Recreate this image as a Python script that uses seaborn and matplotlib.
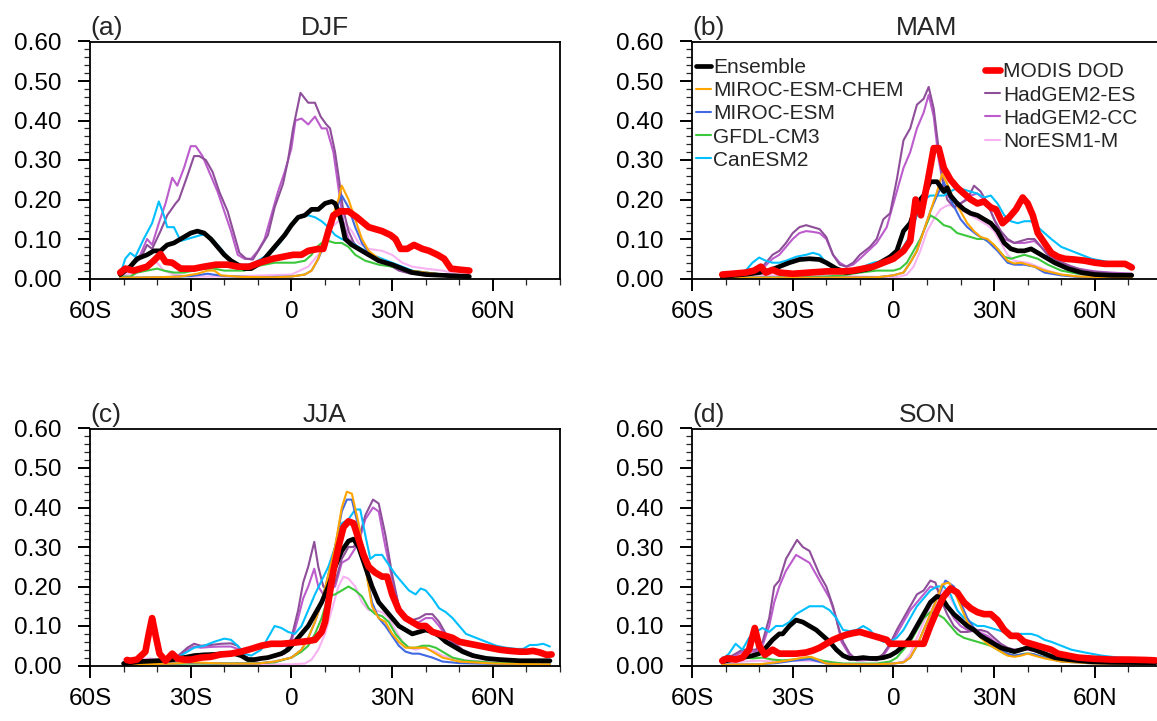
import matplotlib
matplotlib.use("Agg")
import matplotlib.pyplot as plt
from matplotlib.lines import Line2D
from matplotlib.ticker import MultipleLocator, FormatStrFormatter
import pandas as pd
import seaborn as sns

# series: (latitude, dust optical depth)
DJF_MODIS = [(-51, .015), (-49.5, .025), (-47, .02), (-45, .025), (-43, .03), (-41, .045), (-39, .062), (-37.5, .042),
             (-35.5, .04), (-33, .025), (-29, .025), (-26, .03), (-22.5, .035), (-19, .035), (-16, .03), (-12.5, .03),
             (-9.5, .04), (-5.5, .05), (-2.5, .055), (0.5, .06), (3, .06), (5, .07), (8, .075), (9.5, .075), (11, .12),
             (12.5, .16), (14.5, .17), (17, .17), (19.5, .155), (23, .13), (27, .12), (29.5, .11), (31, .1),
             (32.5, .075), (34.5, .075), (36.5, .085), (39, .075), (41, .07), (43.5, .06), (45.5, .05), (47.5, .025),
             (50.5, .022), (53, .02)]
DJF_ENSEMBLE = [(-51, .01), (-48, .03), (-46, .05), (-43, .06), (-41, .07), (-39, .07), (-37, .085), (-35, .09),
                (-33, .1), (-30, .115), (-28, .12), (-26, .115), (-24, .1), (-22, .08), (-20, .06), (-18, .045),
                (-16, .035), (-14, .025), (-12, .025), (-10, .035), (-8, .05), (-6, .07), (-4, .09), (-2, .11),
                (0, .135), (2, .155), (4, .16), (6, .175), (8, .175), (10, .19), (12, .195), (13, .19), (14, .17),
                (15, .14), (16, .1), (18, .085), (20, .075), (23, .06), (26, .045), (30, .035), (33, .025), (36, .015),
                (40, .01), (45, .008), (53, .005)]
DJF_HADES = [(-51, .01), (-48, .03), (-45, .05), (-43, .085), (-41.5, .075), (-39, .12), (-37, .16), (-34.5, .19),
             (-33.5, .2), (-31, .26), (-29, .31), (-27.5, .31), (-25.5, .3), (-23.5, .27), (-21.5, .22), (-19, .17),
             (-17, .11), (-15.5, .065), (-13.5, .05), (-11.5, .048), (-9.5, .075), (-7, .11), (-5, .18), (-2.5, .24),
             (-1, .3), (0.5, .38), (2.7, .47), (5, .445), (7, .445), (8.7, .41), (10.4, .39), (11.5, .38), (13, .32),
             (14.2, .25), (15.3, .18), (17, .12), (18.6, .09), (20.2, .075), (22.4, .06), (25.7, .045), (29, .035),
             (32, .02), (35.5, .012), (40, .01), (44, .008), (53, .005)]
DJF_HADCC = [(-51, .005), (-48, .025), (-45, .06), (-43, .1), (-41.5, .085), (-39.5, .14), (-37.5, .19), (-35.5, .255),
             (-34, .235), (-32, .28), (-30, .335), (-28.5, .335), (-26.5, .31), (-24, .26), (-22, .22), (-20, .17),
             (-18, .12), (-16, .06), (-14, .05), (-12, .05), (-10, .07), (-8, .1), (-6, .16), (-4, .22), (-2, .27),
             (0, .33), (1.2, .4), (3, .405), (5, .39), (7, .41), (9, .38), (10.5, .38), (12.5, .32), (14, .23),
             (15.5, .14), (17, .1), (19, .085), (22, .065), (26, .045), (30, .03), (35, .015), (40, .01), (53, .006)]
DJF_CANESM = [(-51, .01), (-49.5, .05), (-48, .065), (-46.5, .055), (-44, .1), (-41.5, .14), (-39.5, .195), (-38, .16),
              (-37, .13), (-35, .13), (-33, .095), (-31, .1), (-29, .105), (-27, .11), (-25, .11), (-23, .095),
              (-21, .075), (-19, .055), (-17, .04), (-15, .035), (-13, .035), (-11, .04), (-9, .05), (-7, .06),
              (-5, .075), (-3, .095), (-1, .12), (1, .15), (3, .155), (5, .16), (7, .155), (9, .145), (11, .13),
              (13, .11), (15, .1), (17, .095), (19, .085), (21, .075), (24, .06), (27, .05), (30, .04), (33, .03),
              (36, .02), (40, .015), (45, .01), (53, .005)]
DJF_GFDL = [(-51, .005), (-48, .005), (-46, .015), (-43, .02), (-40, .025), (-38, .02), (-35, .015), (-32, .015),
            (-29, .02), (-26, .025), (-23, .025), (-20, .02), (-17, .02), (-14, .02), (-11, .03), (-8, .035), (-5, .04),
            (-2, .04), (1, .04), (4, .045), (6, .06), (7, .075), (9, .09), (11, .095), (13, .09), (15, .09), (17, .08),
            (19, .06), (22, .045), (26, .035), (30, .03), (35, .02), (40, .015), (45, .01), (53, .005)]
DJF_MIROC_CHEM = [(-51, .002), (-40, .003), (-33, .005), (-28, .012), (-25, .02), (-23, .02), (-21, .008), (-15, .004),
                  (-5, .003), (0, .005), (4, .01), (6, .02), (8, .05), (10, .1), (12, .15), (14, .2), (15, .235),
                  (17, .2), (19, .15), (21, .1), (23, .07), (26, .05), (30, .035), (35, .02), (40, .015), (45, .01),
                  (53, .005)]
DJF_MIROC = [(-51, .002), (-40, .003), (-30, .006), (-25, .012), (-20, .006), (-10, .003), (0, .005), (4, .01),
             (6, .02), (8, .05), (10, .09), (12, .14), (14, .19), (15, .21), (17, .18), (19, .13), (21, .09),
             (23, .065), (26, .05), (30, .035), (35, .02), (40, .015), (45, .01), (53, .005)]
DJF_NORESM = [(-51, .005), (-45, .02), (-42, .04), (-40, .04), (-38, .02), (-35, .01), (-30, .005), (-20, .005),
              (0, .01), (5, .03), (8, .06), (10, .1), (12, .13), (14, .145), (16, .14), (18, .12), (20, .09),
              (23, .075), (27, .07), (30, .06), (33, .04), (36, .03), (40, .025), (45, .02), (50, .01), (53, .01)]

MAM_MODIS = [(-51, .01), (-48, .012), (-44, .015), (-41.5, .02), (-39.5, .03), (-38, .015), (-36, .022), (-34, .015),
             (-30, .012), (-25, .015), (-20, .018), (-15, .018), (-12, .02), (-9, .025), (-6, .03), (-3, .04), (0, .05),
             (3, .07), (5, .095), (6.6, .2), (8.2, .16), (10.3, .25), (12, .33), (13.5, .33), (15, .28), (17, .25),
             (19, .23), (21, .215), (23, .2), (25, .19), (27, .195), (29, .18), (30.5, .175), (32.5, .14),
             (34.5, .155), (36.5, .175), (38.5, .205), (40, .19), (41.5, .16), (43, .115), (45, .09), (47, .065),
             (49, .055), (51, .05), (54, .048), (57, .045), (60, .04), (63, .037), (66, .037), (69, .037), (71, .028)]
MAM_ENSEMBLE = [(-51, .005), (-45, .01), (-40, .015), (-37, .02), (-34, .03), (-31, .04), (-28, .048), (-25, .05),
                (-22, .048), (-20, .04), (-17, .025), (-14, .015), (-10, .02), (-7, .025), (-4, .04), (-1, .055),
                (1, .07), (3, .12), (5, .14), (7, .19), (9, .21), (11, .245), (13, .245), (15, .22), (16, .23),
                (17, .21), (19, .19), (21, .175), (23, .165), (25, .16), (27, .15), (29, .14), (31, .12), (33, .09),
                (35, .075), (37, .07), (39, .07), (41, .075), (43, .065), (45, .055), (48, .04), (52, .025),
                (56, .015), (60, .01), (65, .008), (71, .008)]
MAM_HADES = [(-51, .002), (-45, .005), (-42, .01), (-39, .03), (-36, .06), (-34, .07), (-32, .09), (-30, .115),
             (-28, .13), (-26, .135), (-24, .13), (-22, .125), (-20, .105), (-18, .06), (-16, .035), (-14, .03),
             (-12, .04), (-10, .06), (-7, .08), (-5, .1), (-3, .15), (-1, .165), (1, .25), (3, .35), (5, .38),
             (7, .44), (9, .455), (10.5, .485), (12, .43), (13, .36), (14.5, .26), (16, .2), (18, .18), (20, .19),
             (22, .2), (24, .235), (26, .22), (28, .19), (30, .15), (32, .12), (34, .1), (36, .09), (38, .095),
             (40, .1), (42, .1), (44, .08), (46, .06), (49, .045), (53, .03), (57, .02), (62, .015), (67, .012),
             (71, .012)]
MAM_HADCC = [(-51, .002), (-45, .005), (-42, .01), (-39, .025), (-36, .05), (-34, .06), (-32, .08), (-30, .1),
             (-28, .115), (-26, .12), (-24, .118), (-22, .115), (-20, .1), (-18, .06), (-16, .04), (-14, .03),
             (-12, .035), (-10, .05), (-5, .09), (-2, .13), (1, .22), (3, .28), (5, .32), (7, .38), (9, .42),
             (10.5, .465), (12, .41), (13.5, .3), (15, .23), (17, .2), (20, .19), (23, .21), (25, .215), (27, .2),
             (29, .17), (31, .13), (33, .1), (36, .09), (39, .09), (42, .095), (44, .08), (46, .06), (50, .04),
             (55, .025), (60, .018), (65, .015), (71, .012)]
MAM_CANESM = [(-51, .01), (-47, .015), (-44, .02), (-42, .04), (-40, .053), (-38, .045), (-36, .04), (-34, .04),
              (-32, .045), (-29, .055), (-26, .06), (-24, .065), (-22, .06), (-20, .04), (-18, .03), (-15, .02),
              (-12, .02), (-9, .03), (-6, .04), (-3, .045), (0, .055), (3, .08), (5, .11), (7, .16), (9, .2),
              (11, .21), (13, .21), (15, .21), (17, .22), (19, .23), (21, .225), (23, .22), (25, .215), (27, .205),
              (29, .21), (31, .19), (33, .16), (35, .145), (37, .14), (39, .145), (41, .145), (43, .13), (45, .115),
              (47, .1), (50, .08), (53, .07), (56, .06), (59, .05), (62, .045), (65, .04), (68, .035), (71, .03)]
MAM_GFDL = [(-51, .002), (-30, .003), (-20, .005), (-15, .008), (-10, .015), (-5, .02), (-2, .02), (0, .02),
            (2, .025), (4, .04), (6, .07), (8, .1), (10, .14), (11, .16), (13, .15), (15, .135), (17, .13),
            (19, .115), (21, .11), (23, .105), (25, .1), (27, .1), (29, .09), (31, .075), (33, .055), (35, .05),
            (37, .055), (39, .06), (41, .055), (43, .05), (46, .035), (50, .02), (55, .012), (60, .008), (71, .005)]
MAM_MIROC_CHEM = [(-51, .002), (-20, .002), (-5, .003), (0, .008), (3, .015), (5, .04), (7, .07), (9, .12), (11, .17),
                  (13, .22), (14.5, .265), (16, .24), (18, .2), (20, .17), (22, .14), (24, .12), (26, .105),
                  (28, .1), (30, .085), (32, .065), (34, .045), (36, .038), (38, .04), (40, .035), (42, .03),
                  (45, .02), (50, .01), (55, .005), (71, .002)]
MAM_MIROC = [(-51, .002), (-20, .002), (-5, .003), (0, .008), (3, .015), (5, .04), (7, .07), (9, .12), (11, .17),
             (13, .21), (15, .245), (17, .2), (20, .15), (22, .13), (25, .11), (28, .095), (31, .07), (34, .04),
             (36, .035), (39, .035), (42, .03), (45, .015), (50, .008), (55, .004), (71, .002)]
MAM_NORESM = [(-51, .005), (-35, .008), (-25, .01), (-15, .006), (0, .003), (2, .005), (4, .01), (6, .03), (8, .07),
              (10, .12), (12, .15), (14, .175), (16, .185), (18, .185), (20, .175), (22, .165), (24, .155),
              (26, .145), (28, .135), (30, .12), (32, .09), (34, .06), (36, .045), (38, .042), (40, .04), (43, .03),
              (46, .02), (50, .01), (55, .005), (71, .002)]

JJA_MODIS = [(-49, .014), (-48, .012), (-46, .015), (-43.5, .035), (-42.5, .08), (-41.5, .12), (-40.3, .07),
             (-39.3, .03), (-37.5, .012), (-35.5, .03), (-34, .018), (-32, .015), (-30, .015), (-27, .02),
             (-24, .022), (-21, .028), (-18, .03), (-15, .035), (-12, .042), (-9, .05), (-6, .055), (-3, .055),
             (0, .057), (3, .06), (5, .062), (7, .065), (9, .085), (10, .11), (11, .16), (12.5, .24), (14, .3),
             (15.5, .35), (17, .365), (18.5, .36), (20, .32), (21.5, .28), (23, .25), (25, .235), (27, .225),
             (28.5, .225), (30, .18), (32, .14), (34, .12), (36, .11), (38, .1), (40, .1), (42, .085), (44, .08),
             (46, .075), (48, .07), (50, .06), (53, .055), (56, .05), (59, .045), (62, .04), (65, .037), (68, .035),
             (70, .035), (72, .037), (74, .033), (76, .027), (77.5, .028)]
JJA_ENSEMBLE = [(-50, .005), (-45, .01), (-40, .012), (-35, .015), (-32, .02), (-29, .025), (-26, .027), (-23, .028),
                (-20, .03), (-17, .03), (-15, .025), (-13, .015), (-11, .015), (-9, .018), (-7, .02), (-5, .025),
                (-3, .03), (-1, .04), (1, .06), (3, .08), (5, .1), (7, .13), (9, .16), (11, .2), (13, .25), (15, .29),
                (17, .315), (18.5, .32), (20, .3), (22, .25), (24, .2), (26, .16), (28, .14), (30, .12), (32, .1),
                (34, .09), (36, .08), (38, .085), (40, .09), (42, .085), (44, .075), (46, .06), (48, .05), (51, .035),
                (54, .025), (58, .018), (62, .015), (68, .012), (77, .012)]
JJA_HADES = [(-50, .003), (-40, .005), (-36, .01), (-33, .03), (-31, .045), (-29, .055), (-27, .05), (-24, .052),
             (-21, .055), (-18, .056), (-16, .05), (-14, .025), (-12, .015), (-10, .015), (-8, .02), (-5, .025),
             (-2, .035), (0, .07), (2, .14), (3.5, .21), (5, .25), (6.8, .313), (8, .25), (9.5, .2), (11, .19),
             (13, .21), (15, .27), (17, .3), (18.5, .3), (20, .32), (22, .38), (24.3, .42), (26, .41), (28, .33),
             (30, .23), (32, .15), (34, .12), (36, .115), (38, .12), (40, .13), (42, .13), (44, .11), (46, .08),
             (48, .06), (51, .04), (55, .025), (60, .015), (65, .012), (77, .012)]
JJA_HADCC = [(-50, .003), (-40, .005), (-36, .01), (-33, .028), (-31, .04), (-29, .048), (-27, .045), (-24, .047),
             (-21, .048), (-18, .048), (-16, .042), (-14, .022), (-12, .013), (-10, .013), (-8, .018), (-5, .022),
             (-2, .03), (0, .06), (2, .12), (3.5, .17), (5, .2), (6.8, .245), (8, .2), (9.5, .18), (11, .19),
             (13, .2), (15, .26), (17, .27), (18.5, .29), (20, .31), (22, .37), (24.3, .4), (26, .39), (28, .3),
             (30, .22), (32, .15), (34, .12), (36, .11), (38, .11), (40, .12), (42, .12), (44, .1), (46, .075),
             (48, .055), (51, .035), (55, .022), (60, .014), (65, .011), (77, .01)]
JJA_CANESM = [(-50, .005), (-40, .008), (-35, .015), (-32, .03), (-29, .045), (-26, .05), (-23, .06), (-20, .068),
              (-18, .065), (-16, .05), (-14, .03), (-12, .025), (-9, .04), (-7, .07), (-5, .1), (-3, .095),
              (-1, .085), (1, .08), (3, .1), (5, .14), (7, .18), (9, .215), (11, .25), (13, .3), (15, .36), (17, .37),
              (19, .395), (20.5, .395), (22, .33), (23.5, .27), (25, .28), (27, .28), (29, .255), (31, .23),
              (33, .21), (35, .19), (37, .18), (38.5, .195), (40, .19), (42, .17), (44, .145), (46, .135), (48, .12),
              (50, .1), (52, .08), (55, .07), (58, .06), (61, .05), (64, .045), (67, .042), (69, .042), (71, .052),
              (73, .052), (75, .055), (77, .048)]
JJA_GFDL = [(-50, .002), (-30, .005), (-20, .005), (-10, .006), (-5, .008), (0, .02), (3, .035), (5, .05), (7, .08),
            (9, .12), (11, .175), (13, .18), (15, .19), (17, .2), (19, .19), (21, .175), (23, .145), (25, .13),
            (27, .125), (29, .11), (31, .08), (33, .06), (35, .045), (37, .045), (39, .05), (41, .05), (43, .045),
            (45, .035), (48, .02), (52, .012), (60, .007), (77, .005)]
JJA_MIROC_CHEM = [(-50, .002), (-35, .005), (-30, .008), (-20, .005), (-10, .005), (-5, .01), (0, .02), (3, .04),
                  (5, .07), (7, .11), (9, .16), (11, .23), (13, .3), (15, .4), (16.5, .44), (18, .435), (20, .36),
                  (22, .25), (24, .15), (26, .12), (28, .11), (30, .08), (32, .06), (34, .045), (36, .045),
                  (38, .045), (40, .045), (42, .035), (45, .02), (50, .01), (60, .005), (77, .003)]
JJA_MIROC = [(-50, .002), (-35, .005), (-30, .007), (-20, .005), (-10, .005), (-5, .01), (0, .02), (3, .04),
             (5, .07), (7, .11), (9, .16), (11, .23), (13, .3), (15, .39), (16.5, .42), (18, .42), (20, .35),
             (22, .25), (24, .16), (26, .12), (28, .1), (30, .075), (32, .05), (34, .035), (36, .03), (38, .03),
             (40, .025), (42, .02), (45, .01), (50, .006), (60, .004), (77, .003)]
JJA_NORESM = [(-50, .015), (-46, .015), (-42, .018), (-40, .015), (-35, .008), (-30, .005), (-20, .003), (0, .003),
              (4, .005), (6, .015), (8, .04), (10, .08), (12, .14), (14, .2), (15.5, .225), (17, .22), (19, .2),
              (21, .16), (23, .14), (25, .14), (27, .135), (29, .12), (31, .09), (33, .06), (35, .045), (37, .04),
              (39, .045), (41, .04), (43, .035), (45, .025), (50, .015), (60, .008), (77, .005)]

SON_MODIS = [(-51, .012), (-49.5, .018), (-47, .015), (-45, .02), (-43, .04), (-41.3, .095), (-40, .05),
             (-38.3, .027), (-36, .04), (-34, .03), (-32, .03), (-29, .03), (-26, .033), (-24, .038), (-22, .045),
             (-20, .055), (-18, .065), (-16, .072), (-14, .078), (-12, .082), (-10, .085), (-8, .08), (-6, .075),
             (-4, .07), (-2, .065), (-1, .055), (1, .055), (4, .055), (7, .055), (9, .055), (11, .1), (13, .14),
             (15, .175), (17, .195), (19, .185), (21, .16), (23, .145), (25, .135), (27, .13), (29, .13),
             (31, .115), (33, .09), (35, .075), (37, .075), (39, .06), (41, .055), (43, .05), (45, .045), (47, .04),
             (49, .03), (52, .025), (55, .02), (60, .017), (65, .015), (70, .015), (75, .014), (78, .013)]
SON_ENSEMBLE = [(-51, .01), (-48, .015), (-45, .02), (-42, .025), (-40, .03), (-38, .045), (-36, .065), (-34, .08),
                (-33, .08), (-31, .1), (-29, .115), (-27, .11), (-25, .1), (-23, .09), (-21, .075), (-19, .06),
                (-17, .04), (-15, .025), (-13, .018), (-11, .018), (-9, .02), (-7, .018), (-5, .018), (-3, .02),
                (-1, .025), (1, .035), (3, .05), (5, .07), (7, .1), (9, .13), (11, .16), (13, .175), (14.5, .17),
                (16, .15), (18, .13), (20, .115), (22, .1), (24, .09), (26, .075), (28, .065), (30, .055), (32, .045),
                (34, .04), (36, .035), (38, .04), (40, .045), (42, .04), (45, .03), (48, .02), (52, .015), (58, .01),
                (65, .008), (78, .007)]
SON_HADES = [(-51, .02), (-48, .025), (-45, .04), (-43, .04), (-41, .04), (-39, .06), (-37, .12), (-35.5, .2),
             (-34, .215), (-32, .27), (-28.7, .318), (-27, .3), (-25, .29), (-23.5, .26), (-22, .23), (-20, .2),
             (-18, .15), (-16.5, .1), (-15, .06), (-13, .03), (-11, .015), (-9, .015), (-7, .018), (-5, .015),
             (-3, .03), (-1, .055), (1, .09), (3, .12), (5, .15), (7, .18), (9, .19), (11, .215), (12.5, .21),
             (14, .17), (16, .13), (18, .1), (20, .085), (22, .085), (24, .088), (26, .09), (28, .085), (30, .07),
             (32, .055), (34, .045), (36, .04), (38, .04), (40, .045), (42, .04), (45, .03), (50, .02), (55, .013),
             (65, .01), (78, .008)]
SON_HADCC = [(-51, .015), (-48, .02), (-45, .035), (-43, .035), (-41, .035), (-39, .05), (-37, .1), (-35.5, .16),
             (-34, .2), (-32, .24), (-29, .28), (-27, .27), (-25, .26), (-23, .23), (-21, .2), (-19, .17),
             (-17, .12), (-15.5, .06), (-13, .025), (-11, .013), (-9, .013), (-7, .015), (-5, .013), (-3, .025),
             (-1, .05), (1, .08), (3, .11), (5, .14), (7, .16), (9, .18), (11, .2), (13, .195), (14, .18), (16, .15),
             (18, .12), (20, .1), (22, .09), (25, .085), (28, .075), (30, .06), (34, .04), (40, .04), (45, .03),
             (50, .018), (55, .012), (65, .009), (78, .007)]
SON_CANESM = [(-51, .015), (-49, .03), (-47, .055), (-45, .04), (-43, .07), (-41, .085), (-39, .095), (-37, .085),
              (-35, .1), (-33, .1), (-31, .11), (-29, .13), (-27, .14), (-25, .15), (-23, .15), (-21, .15),
              (-19, .14), (-17, .12), (-15, .09), (-13, .087), (-11, .09), (-9, .1), (-7, .09), (-5, .07), (-3, .06),
              (-1, .06), (1, .07), (3, .09), (5, .12), (7, .15), (9, .17), (11, .19), (13, .2), (15, .2), (17, .18),
              (19, .14), (21, .12), (23, .11), (25, .1), (27, .1), (29, .095), (31, .09), (33, .085), (35, .08),
              (37, .08), (39, .08), (41, .08), (43, .075), (45, .065), (47, .06), (50, .05), (53, .04), (57, .033),
              (62, .025), (67, .02), (72, .018), (78, .015)]
SON_GFDL = [(-51, .01), (-47, .015), (-44, .02), (-42, .018), (-39, .02), (-36, .015), (-33, .013), (-30, .015),
            (-27, .017), (-24, .018), (-21, .012), (-18, .008), (-15, .005), (-10, .005), (-5, .005), (-1, .01),
            (1, .02), (3, .04), (5, .06), (7, .09), (9, .12), (11, .135), (13, .13), (15, .12), (17, .1), (19, .08),
            (21, .07), (23, .065), (25, .06), (27, .055), (29, .05), (31, .04), (33, .03), (35, .025), (37, .025),
            (39, .03), (41, .03), (43, .025), (46, .018), (50, .012), (60, .008), (78, .006)]
SON_MIROC_CHEM = [(-51, .002), (-40, .003), (-35, .008), (-30, .015), (-27, .02), (-24.5, .022), (-22.5, .015),
                  (-20, .005), (-15, .003), (-5, .003), (0, .005), (3, .008), (5, .02), (7, .05), (9, .09), (11, .13),
                  (13, .17), (14.5, .205), (16.5, .21), (18, .19), (20, .15), (22, .11), (24, .09), (26, .07),
                  (28, .055), (30, .045), (32, .035), (34, .025), (36, .022), (38, .025), (40, .03), (42, .025),
                  (45, .018), (50, .01), (60, .005), (78, .004)]
SON_MIROC = [(-51, .002), (-40, .003), (-35, .006), (-30, .012), (-25, .016), (-20, .005), (-15, .003), (-5, .003),
             (0, .005), (3, .008), (5, .02), (7, .05), (9, .09), (11, .13), (13, .17), (15.5, .215), (18, .2),
             (20, .16), (22, .12), (24, .095), (26, .075), (28, .06), (30, .05), (32, .04), (34, .03), (36, .025),
             (38, .028), (40, .03), (42, .028), (45, .02), (50, .01), (60, .005), (78, .004)]
SON_NORESM = [(-51, .005), (-45, .01), (-40, .012), (-35, .01), (-30, .012), (-25, .012), (-20, .008), (-15, .004),
              (-5, .003), (0, .005), (3, .01), (5, .03), (7, .07), (9, .11), (11, .15), (13, .18), (15, .19),
              (17, .17), (19, .14), (21, .11), (23, .1), (25, .09), (27, .08), (29, .07), (31, .06), (33, .045),
              (35, .035), (37, .035), (39, .04), (41, .04), (43, .035), (46, .025), (50, .015), (60, .008),
              (78, .006)]

SEASONS = ["DJF", "MAM", "JJA", "SON"]
PANEL_TAGS = ["(a)", "(b)", "(c)", "(d)"]
LAT_TICKS = [-60, -30, 0, 30, 60]
LAT_LABELS = ["60S", "30S", "0", "30N", "60N"]

PANELS = {
    "DJF": {"NorESM1-M": DJF_NORESM, "HadGEM2-CC": DJF_HADCC, "HadGEM2-ES": DJF_HADES, "CanESM2": DJF_CANESM,
            "GFDL-CM3": DJF_GFDL, "MIROC-ESM": DJF_MIROC, "MIROC-ESM-CHEM": DJF_MIROC_CHEM,
            "Ensemble": DJF_ENSEMBLE, "MODIS DOD": DJF_MODIS},
    "MAM": {"NorESM1-M": MAM_NORESM, "HadGEM2-CC": MAM_HADCC, "HadGEM2-ES": MAM_HADES, "CanESM2": MAM_CANESM,
            "GFDL-CM3": MAM_GFDL, "MIROC-ESM": MAM_MIROC, "MIROC-ESM-CHEM": MAM_MIROC_CHEM,
            "Ensemble": MAM_ENSEMBLE, "MODIS DOD": MAM_MODIS},
    "JJA": {"NorESM1-M": JJA_NORESM, "HadGEM2-CC": JJA_HADCC, "HadGEM2-ES": JJA_HADES, "CanESM2": JJA_CANESM,
            "GFDL-CM3": JJA_GFDL, "MIROC-ESM": JJA_MIROC, "MIROC-ESM-CHEM": JJA_MIROC_CHEM,
            "Ensemble": JJA_ENSEMBLE, "MODIS DOD": JJA_MODIS},
    "SON": {"NorESM1-M": SON_NORESM, "HadGEM2-CC": SON_HADCC, "HadGEM2-ES": SON_HADES, "CanESM2": SON_CANESM,
            "GFDL-CM3": SON_GFDL, "MIROC-ESM": SON_MIROC, "MIROC-ESM-CHEM": SON_MIROC_CHEM,
            "Ensemble": SON_ENSEMBLE, "MODIS DOD": SON_MODIS},
}

COLORS = {"Ensemble": "black", "MIROC-ESM-CHEM": "#FFA500", "MIROC-ESM": "#4169E1", "GFDL-CM3": "#3CC83C",
          "CanESM2": "#00BFFF", "MODIS DOD": "#FF0000", "HadGEM2-ES": "#8E4E99", "HadGEM2-CC": "#BC5CCC",
          "NorESM1-M": "#F7B2F2"}
WIDTHS = {"Ensemble": 3.4, "MODIS DOD": 4.8}
LEGEND_LEFT = ["Ensemble", "MIROC-ESM-CHEM", "MIROC-ESM", "GFDL-CM3", "CanESM2"]
LEGEND_RIGHT = ["MODIS DOD", "HadGEM2-ES", "HadGEM2-CC", "NorESM1-M"]

rows = []
for season, series in PANELS.items():
    for name, pts in series.items():
        for lat, val in pts:
            rows.append({"season": season, "model": name, "lat": lat, "dod": val})
df = pd.DataFrame(rows)

sns.set_style("ticks")
plt.rcParams["font.family"] = ["Liberation Sans", "DejaVu Sans"]

W, H = 1157, 721
fig = plt.figure(figsize=(W / 100, H / 100), dpi=100)
rects = [(90, 41.5), (692, 41.5), (90, 428.5), (692, 428.5)]
ax_w, ax_h = 470, 237

for i, season in enumerate(SEASONS):
    x0, y0 = rects[i]
    ax = fig.add_axes([x0 / W, 1 - (y0 + ax_h) / H, ax_w / W, ax_h / H])
    sub = df[df["season"] == season]
    for name in PANELS[season]:
        d = sub[sub["model"] == name]
        sns.lineplot(data=d, x="lat", y="dod", color=COLORS[name], linewidth=WIDTHS.get(name, 1.5),
                     estimator=None, sort=False, ax=ax, legend=False)
    ax.set_xlim(-60, 80)
    ax.set_ylim(0, 0.6)
    ax.set_xticks(LAT_TICKS)
    ax.set_xticklabels(LAT_LABELS)
    ax.xaxis.set_minor_locator(MultipleLocator(10))
    ax.yaxis.set_major_locator(MultipleLocator(0.1))
    ax.yaxis.set_minor_locator(MultipleLocator(0.02))
    ax.yaxis.set_major_formatter(FormatStrFormatter("%.2f"))
    ax.tick_params(which="major", direction="out", length=8.5, width=1.4, labelsize=17.5, colors="black")
    ax.tick_params(which="minor", direction="out", length=4, width=0.9)
    ax.tick_params(axis="x", which="major", pad=8)
    ax.tick_params(axis="y", which="major", pad=12)
    ax.set_xlabel("")
    ax.set_ylabel("")
    for sp in ax.spines.values():
        sp.set_linewidth(1.3)
        sp.set_color("black")
    ax.set_title(season, fontsize=19, pad=5)
    ax.set_title(PANEL_TAGS[i], loc="left", fontsize=19, pad=5)

    if season == "MAM":
        leg_kw = dict(loc="upper left", frameon=False, fontsize=15, handlelength=0.72, handletextpad=0.12,
                      labelspacing=0.2, borderpad=0, borderaxespad=0)
        h1 = [Line2D([], [], color=COLORS[n], linewidth=WIDTHS.get(n, 1.5)) for n in LEGEND_LEFT]
        leg1 = ax.legend(h1, LEGEND_LEFT, bbox_to_anchor=(0.008, 0.93), **leg_kw)
        ax.add_artist(leg1)
        h2 = [Line2D([], [], color=COLORS[n], linewidth=WIDTHS.get(n, 1.5)) for n in LEGEND_RIGHT]
        ax.legend(h2, LEGEND_RIGHT, bbox_to_anchor=(0.624, 0.912), **leg_kw)

fig.savefig("out.png", dpi=100)
